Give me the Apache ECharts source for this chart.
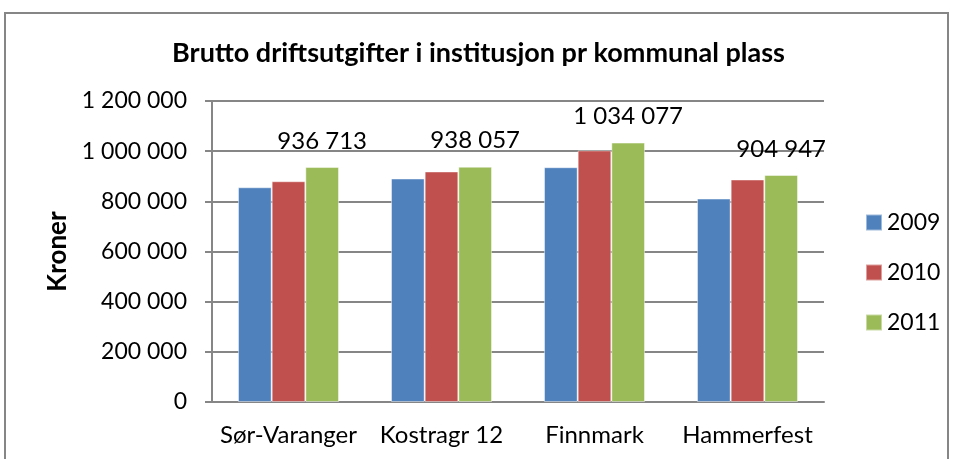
<!DOCTYPE html>
<html>
<head>
<meta charset="utf-8">
<script src="https://cdn.jsdelivr.net/npm/echarts@6/dist/echarts.min.js"></script>
<style>
  html, body { margin: 0; padding: 0; background: #fff; }
  #chart { width: 957px; height: 459px; }
</style>
</head>
<body>
<div id="chart"></div>
<script>
// chart data
var categories = ['Sør-Varanger', 'Kostragr 12', 'Finnmark', 'Hammerfest'];
var years = ['2009', '2010', '2011'];
var values2009 = [856000, 891000, 936000, 811000];
var values2010 = [880000, 919000, 1003000, 887000];
var values2011 = [936713, 938057, 1034077, 904947];
var yTicks = { min: 0, max: 1200000, interval: 200000 };

var FONT = 'Lato';
var colors = ['#4F81BD', '#C0504D', '#9BBB59'];

function spaced(v) {
	return String(Math.round(v)).replace(/\B(?=(\d{3})+(?!\d))/g, ' ');
}

function makeSeries(name, data, idx, withLabel) {
	return {
		name: name,
		type: 'bar',
		data: data,
		barGap: '0%',
		barCategoryGap: '34%',
		itemStyle: {
			color: colors[idx],
			borderColor: 'rgba(255,255,255,0.45)',
			borderWidth: 1
		},
		label: {
			show: withLabel,
			position: 'top',
			distance: 14,
			fontFamily: FONT,
			fontSize: 24,
			color: '#000',
			formatter: function (p) { return spaced(p.value); }
		}
	};
}

var myChart = echarts.init(document.getElementById('chart'));
myChart.setOption({
	animation: false,
	color: colors,
	title: {
		text: 'Brutto driftsutgifter i institusjon pr kommunal plass',
		left: 'center',
		top: 35,
		textStyle: { fontFamily: FONT, fontSize: 27, fontWeight: 'bold', color: '#000' }
	},
	graphic: [{
		type: 'rect',
		shape: { x: 5, y: 13, width: 943, height: 500 },
		style: { fill: 'none', stroke: '#868686', lineWidth: 2 },
		silent: true
	}],
	legend: {
		data: years,
		orient: 'vertical',
		left: 860,
		top: 206,
		itemWidth: 16,
		itemHeight: 16,
		itemGap: 27,
		icon: 'rect',
		textStyle: { fontFamily: FONT, fontSize: 23, color: '#000' }
	},
	grid: { left: 212, right: 133, top: 101, bottom: 57 },
	xAxis: {
		type: 'category',
		data: categories,
		axisLine: { lineStyle: { color: '#868686', width: 2 } },
		axisTick: { show: false },
		axisLabel: { interval: 0, fontFamily: FONT, fontSize: 24, color: '#000', margin: 21 }
	},
	yAxis: {
		type: 'value',
		min: yTicks.min,
		max: yTicks.max,
		interval: yTicks.interval,
		name: 'Kroner',
		nameLocation: 'middle',
		nameGap: 138,
		nameTextStyle: { fontFamily: FONT, fontSize: 26, fontWeight: 'bold', color: '#000' },
		axisLine: { show: true, lineStyle: { color: '#868686', width: 2 } },
		axisTick: { show: true, inside: false, length: 7, lineStyle: { color: '#868686', width: 2 } },
		splitLine: { lineStyle: { color: '#868686', width: 2 } },
		axisLabel: {
			fontFamily: FONT, fontSize: 23, color: '#000', margin: 25,
			formatter: function (v) { return spaced(v); }
		}
	},
	series: [
		makeSeries(years[0], values2009, 0, false),
		makeSeries(years[1], values2010, 1, false),
		makeSeries(years[2], values2011, 2, true)
	]
});
</script>
</body>
</html>
